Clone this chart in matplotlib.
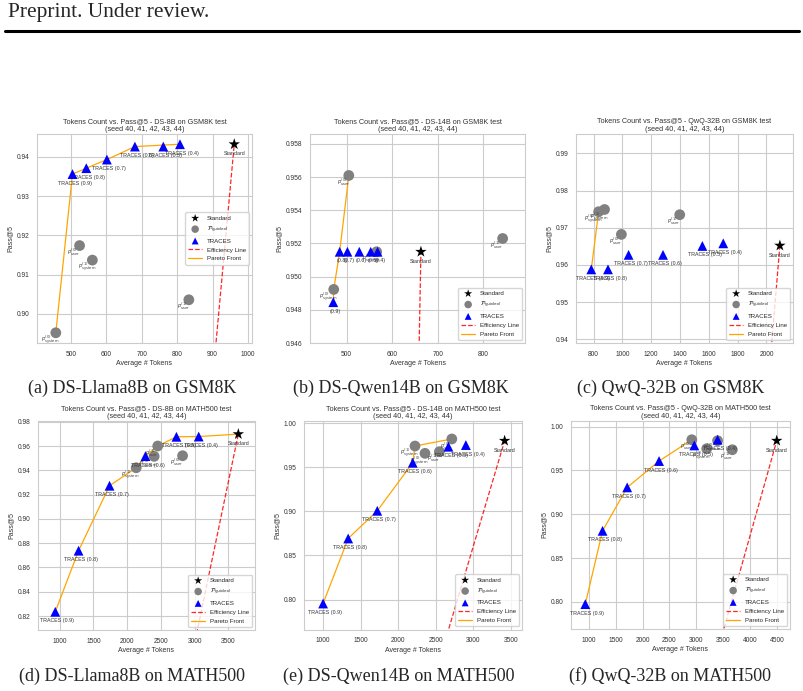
import numpy as np
import matplotlib.pyplot as plt
import seaborn as sns
from matplotlib.lines import Line2D
from matplotlib.ticker import MultipleLocator

sns.set_style("whitegrid")
plt.rcParams["font.family"] = ["Liberation Sans", "DejaVu Sans"]
plt.rcParams["axes.linewidth"] = 0.8
plt.rcParams["grid.linewidth"] = 0.8
plt.rcParams["mathtext.fontset"] = "dejavusans"

W, H = 804, 691
SERIF = ["Liberation Serif", "DejaVu Serif"]

# ---- data ----
labels_traces = ["0.9", "0.8", "0.7", "0.6", "0.5", "0.4"]

# (a) DS-8B on GSM8K
a_traces_tok = [505, 544, 602, 681, 761, 808]
a_traces_acc = [0.9356, 0.9371, 0.9393, 0.9426, 0.9426, 0.9432]
a_guided_tok = [458, 525, 561, 833]
a_guided_acc = [0.8952, 0.9174, 0.9137, 0.9036]
a_guided_lab = ["0,system", "0,user", "1,system", "1,user"]
a_std_tok, a_std_acc = 961, 0.9432

# (b) DS-14B on GSM8K
b_traces_tok = [471, 485, 502, 528, 553, 568]
b_traces_acc = [0.94846, 0.9515, 0.9515, 0.9515, 0.9515, 0.9515]
b_guided_tok = [472, 505, 566, 842]
b_guided_acc = [0.94923, 0.9561, 0.9515, 0.9523]
b_guided_lab = ["0,system", "0,user", "1,system", "1,user"]
b_std_tok, b_std_acc = 663, 0.9515

# (c) QwQ-32B on GSM8K
c_traces_tok = [784, 900, 1043, 1282, 1555, 1700]
c_traces_acc = [0.9588, 0.9588, 0.9627, 0.9627, 0.9651, 0.9658]
c_guided_tok = [835, 876, 993, 1398]
c_guided_acc = [0.9743, 0.9749, 0.9682, 0.9735]
c_guided_lab = ["0,system", "1,system", "0,user", "1,user"]
c_std_tok, c_std_acc = 2093, 0.9652

# (d) DS-8B on MATH500
d_traces_tok = [936, 1281, 1740, 2272, 2731, 3061]
d_traces_acc = [0.8235, 0.8738, 0.9273, 0.9517, 0.9676, 0.9678]
d_guided_tok = [2135, 2401, 2454, 2822]
d_guided_acc = [0.9421, 0.9515, 0.9600, 0.9520]
d_guided_lab = ["1,system", "0,system", "1,user", "0,user"]
d_std_tok, d_std_acc = 3648, 0.9698

# (e) DS-14B on MATH500
e_traces_tok = [1000, 1334, 1721, 2193, 2668, 2900]
e_traces_acc = [0.7955, 0.8693, 0.9007, 0.9552, 0.9734, 0.9753]
e_guided_tok = [2223, 2356, 2548, 2713]
e_guided_acc = [0.9742, 0.9659, 0.9678, 0.9822]
e_guided_lab = ["1,system", "0,system", "1,user", "0,user"]
e_std_tok, e_std_acc = 3416, 0.9802

# (f) QwQ-32B on MATH500
f_traces_tok = [939, 1259, 1716, 2307, 2961, 3392]
f_traces_acc = [0.7974, 0.8811, 0.9307, 0.9608, 0.9786, 0.9851]
f_guided_tok = [2914, 3191, 3392, 3665]
f_guided_acc = [0.9851, 0.9749, 0.9840, 0.9737]
f_guided_lab = ["0,user", "1,system", "0,system", "1,user"]
f_std_tok, f_std_acc = 4489, 0.9840

titles = [
    "Tokens Count vs. Pass@5 - DS-8B on GSM8K test",
    "Tokens Count vs. Pass@5 - DS-14B on GSM8K test",
    "Tokens Count vs. Pass@5 - QwQ-32B on GSM8K test",
    "Tokens Count vs. Pass@5 - DS-8B on MATH500 test",
    "Tokens Count vs. Pass@5 - DS-14B on MATH500 test",
    "Tokens Count vs. Pass@5 - QwQ-32B on MATH500 test",
]
captions = [
    "(a) DS-Llama8B on GSM8K", "(b) DS-Qwen14B on GSM8K", "(c) QwQ-32B on GSM8K",
    "(d) DS-Llama8B on MATH500", "(e) DS-Qwen14B on MATH500", "(f) QwQ-32B on MATH500",
]

panels = [
    (a_traces_tok, a_traces_acc, a_guided_tok, a_guided_acc, a_guided_lab, a_std_tok, a_std_acc),
    (b_traces_tok, b_traces_acc, b_guided_tok, b_guided_acc, b_guided_lab, b_std_tok, b_std_acc),
    (c_traces_tok, c_traces_acc, c_guided_tok, c_guided_acc, c_guided_lab, c_std_tok, c_std_acc),
    (d_traces_tok, d_traces_acc, d_guided_tok, d_guided_acc, d_guided_lab, d_std_tok, d_std_acc),
    (e_traces_tok, e_traces_acc, e_guided_tok, e_guided_acc, e_guided_lab, e_std_tok, e_std_acc),
    (f_traces_tok, f_traces_acc, f_guided_tok, f_guided_acc, f_guided_lab, f_std_tok, f_std_acc),
]

# ---- layout / axis settings (pixels in the 804x691 canvas) ----
boxes = [(37, 252, 134, 343), (310, 525, 134, 343), (576, 793, 134, 343),
         (38, 255, 421, 630), (304, 522, 421, 629.5), (571, 790, 421, 629)]
xlims = [(405, 1011), (420, 891), (678, 2184), (680, 3895), (746, 3647), (674, 4735)]
ylims = [(0.8926, 0.9458), (0.946, 0.9586), (0.939, 0.9952),
         (0.8085, 0.9806), (0.766, 1.0026), (0.769, 1.0065)]
xsteps = [100, 100, 200, 500, 500, 500]
ysteps = [0.01, 0.002, 0.01, 0.02, 0.05, 0.05]
legend_locs = ["center right", "lower right", "lower right",
               "lower right", "lower right", "lower right"]
short_trace_labels = [False, True, False, False, False, False]
caption_x = [132, 401, 671, 132, 399, 670]
caption_y = [388, 388, 388, 676, 676, 676]


def pareto(tok, acc):
    order = np.argsort(tok, kind="stable")
    xs, ys, best = [], [], -1
    for i in order:
        if acc[i] > best:
            xs.append(tok[i])
            ys.append(acc[i])
            best = acc[i]
    return xs, ys


fig = plt.figure(figsize=(W / 100, H / 100), dpi=100)

for k, (ttok, tacc, gtok, gacc, glab, stok, sacc) in enumerate(panels):
    l, r, t, b = boxes[k]
    ax = fig.add_axes([l / W, 1 - b / H, (r - l) / W, (b - t) / H])

    all_tok = list(ttok) + list(gtok) + [stok]
    all_acc = list(tacc) + list(gacc) + [sacc]
    px, py = pareto(all_tok, all_acc)

    ax.plot([0, stok], [0, sacc], color="red", ls="--", lw=0.9, alpha=0.85,
            label="Efficiency Line", zorder=2)
    ax.plot(px, py, color="orange", lw=0.9, label="Pareto Front", zorder=2)
    ax.scatter(gtok, gacc, s=60, color="gray", label=r"$\mathcal{P}_{\mathrm{guided}}$",
               zorder=3, edgecolors="none")
    ax.scatter(ttok, tacc, s=50, marker="^", color="blue", label="TRACES",
               zorder=4, edgecolors="none")
    ax.scatter([stok], [sacc], s=75, marker="*", color="black", label="Standard",
               zorder=5, edgecolors="none")

    for x, y, lab in zip(ttok, tacc, labels_traces):
        txt = f"({lab})" if short_trace_labels[k] else f"TRACES ({lab})"
        ax.annotate(txt, (x, y), textcoords="offset points", xytext=(1.5, -6.5),
                    ha="center", va="center", fontsize=3.8, color="#333333")
    for x, y, lab in zip(gtok, gacc, glab):
        i, role = lab.split(",")
        ax.annotate(rf"$p^{{({i})}}_{{\mathrm{{{role}}}}}$", (x, y),
                    textcoords="offset points", xytext=(-4, -5),
                    ha="center", va="center", fontsize=3.8, color="#444444")
    ax.annotate("Standard", (stok, sacc), textcoords="offset points", xytext=(0, -7),
                ha="center", va="center", fontsize=3.8, color="#333333")

    ax.set_xlim(*xlims[k])
    ax.set_ylim(*ylims[k])
    ax.xaxis.set_major_locator(MultipleLocator(xsteps[k]))
    ax.yaxis.set_major_locator(MultipleLocator(ysteps[k]))
    ax.yaxis.set_major_formatter(plt.FormatStrFormatter("%.3f" if ysteps[k] < 0.01 else "%.2f"))
    ax.tick_params(labelsize=4.8, pad=2, colors="#333333")
    ax.set_title(titles[k] + "\n(seed 40, 41, 42, 43, 44)", fontsize=5.2, pad=2.5,
                 color="#333333", linespacing=1.1)
    ax.set_xlabel("Average # Tokens", fontsize=5, labelpad=2, color="#333333")
    ax.set_ylabel("Pass@5", fontsize=5, labelpad=2, color="#333333")

    h, lb = ax.get_legend_handles_labels()
    order = [lb.index(n) for n in ["Standard", r"$\mathcal{P}_{\mathrm{guided}}$",
                                   "TRACES", "Efficiency Line", "Pareto Front"]]
    ax.legend([h[i] for i in order], [lb[i] for i in order], loc=legend_locs[k],
              fontsize=4.4, markerscale=0.7, frameon=True, borderpad=0.5,
              labelspacing=0.6, handlelength=2.2)

    fig.text(caption_x[k] / W, 1 - caption_y[k] / H, captions[k], ha="center",
             va="center", fontsize=13, family=SERIF)

fig.text(8 / W, 1 - 13 / H, "Preprint. Under review.", ha="left", va="center",
         fontsize=15.5, family=SERIF)
fig.add_artist(Line2D([5 / W, 799 / W], [1 - 31 / H, 1 - 31 / H], lw=2.2, color="black"))

fig.savefig("out.png", dpi=100)
